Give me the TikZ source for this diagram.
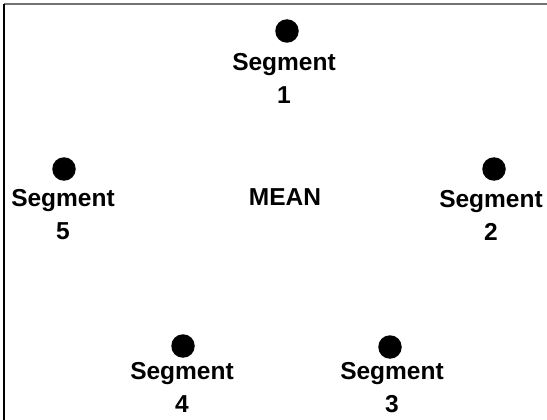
\documentclass[tikz,border=0pt]{standalone}
\usepackage{fontspec}
\setmainfont{Liberation Sans}
\usepackage{tikz}

\tikzset{
  segdot/.style={circle,fill=black,inner sep=0pt,minimum size=23.5pt},
  seglabel/.style={inner sep=0pt,align=center,font=\fontsize{24.5}{33}\selectfont\bfseries}
}

\begin{document}
\begin{tikzpicture}[x=1pt,y=-1pt]
\useasboundingbox (0,0) rectangle (547,420);
% frame, only the top and left edges show
\coordinate (fl) at (4,420);
\coordinate (fc) at (4,4);
\coordinate (fr) at (547,4);
\draw[black!55,line width=1.5pt] (fc) -- (fr);
\draw[black,line width=1.5pt] (fl) -- (fc);
\node[segdot] (dot1) at (287,31){};
\node[segdot] (dot2) at (494,169){};
\node[segdot] (dot3) at (390,347){};
\node[segdot] (dot4) at (183,346){};
\node[segdot] (dot5) at (64,169){};
\node[seglabel] (seg1) at (284,78){Segment\\1};
\node[seglabel] (seg2) at (491,215){Segment\\2};
\node[seglabel] (seg3) at (392,388){Segment\\3};
\node[seglabel] (seg4) at (182,387){Segment\\4};
\node[seglabel] (seg5) at (63,215){Segment\\5};
\node[seglabel] (mean) at (285,197){MEAN};
\end{tikzpicture}
\end{document}
